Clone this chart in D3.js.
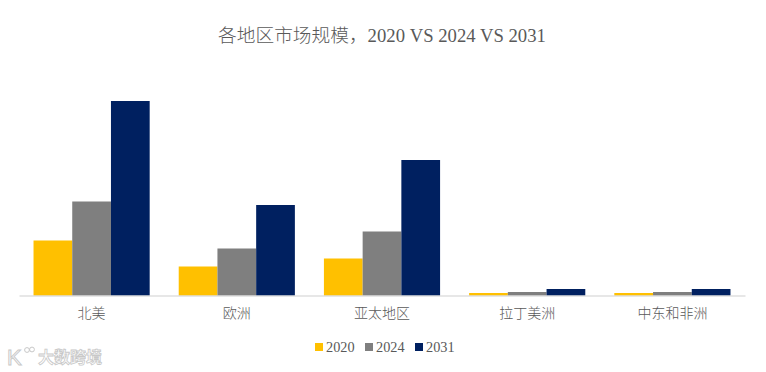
<!DOCTYPE html>
<html>
<head>
<meta charset="utf-8">
<script src="https://cdn.jsdelivr.net/npm/d3@7"></script>
<style>
  html, body { margin: 0; padding: 0; background: #fff; }
  svg { display: block; }
  text { font-family: "Liberation Serif", "Noto Sans CJK SC", serif; fill: #595959; }
  .cjk { font-family: "Noto Sans CJK SC", sans-serif; font-weight: 300; }
</style>
</head>
<body>
<div id="chart"></div>
<script>
// values, arbitrary units (the chart has no value axis)
var categories = ["北美", "欧洲", "亚太地区", "拉丁美洲", "中东和非洲"];
var years = ["2020", "2024", "2031"];
var values2020 = [55, 29, 37, 2.5, 2.5];
var values2024 = [94, 47, 64, 3.5, 3.5];
var values2031 = [194.5, 90.5, 135.5, 6.5, 6.5];
var colors = ["#ffc000", "#7f7f7f", "#002060"];
var series = [values2020, values2024, values2031];

var svgWidth = 766;
var svgHeight = 372;
var baseline = 295.5;

var svg = d3.select("#chart")
  .append("svg")
  .attr("width", svgWidth)
  .attr("height", svgHeight);

var x0 = d3.scaleBand()
  .domain(categories)
  .range([19, 745])
  .paddingInner(0.2)
  .paddingOuter(0.1);

var x1 = d3.scaleBand()
  .domain(years)
  .range([0, x0.bandwidth()]);

var y = d3.scaleLinear()
  .domain([0, 200])
  .range([baseline, baseline - 200]);

// title
var title = svg.append("text")
  .attr("x", 382)
  .attr("y", 42)
  .attr("text-anchor", "middle")
  .attr("font-size", 18.7);
title.append("tspan").attr("class", "cjk").text("各地区市场规模，");
title.append("tspan").text("2020 VS 2024 VS 2031");

// bars
years.forEach(function(year, s) {
  svg.append("g")
    .attr("fill", colors[s])
    .selectAll("rect")
    .data(series[s])
    .enter()
    .append("rect")
    .attr("x", (d, i) => x0(categories[i]) + x1(year))
    .attr("y", d => y(d))
    .attr("width", x1.bandwidth())
    .attr("height", d => y(0) - y(d));
});

// category axis
var bottomAxis = d3.axisBottom(x0).tickSize(0).tickPadding(10);
var axisGroup = svg.append("g")
  .attr("transform", `translate(0, ${baseline})`)
  .call(bottomAxis);
axisGroup.select(".domain").attr("stroke", "#cfcfcf").attr("stroke-width", 1);
axisGroup.selectAll("text")
  .attr("class", "cjk")
  .attr("font-size", 14)
  .attr("fill", "#595959")
  .attr("dy", "0.88em");

// legend
var legendX = d3.scaleOrdinal().domain(years).range([315, 365, 415]);
var legend = svg.append("g")
  .selectAll("g")
  .data(years)
  .enter()
  .append("g")
  .attr("transform", d => `translate(${legendX(d)}, 343)`);
legend.append("rect")
  .attr("width", 8)
  .attr("height", 8)
  .attr("fill", (d, i) => colors[i]);
legend.append("text")
  .attr("x", 11)
  .attr("y", 8.5)
  .attr("font-size", 14.3)
  .text(d => d);

// watermark, bottom left
var mark = svg.append("g").attr("fill", "none").attr("stroke", "#c8c8c8");
mark.append("text")
  .attr("x", 7)
  .attr("y", 365)
  .attr("font-size", 22)
  .style("font-family", '"Liberation Sans", sans-serif')
  .style("fill", "#fff")
  .attr("stroke-width", 1)
  .text("K");
mark.append("circle").attr("cx", 27).attr("cy", 350).attr("r", 2.4);
mark.append("circle").attr("cx", 32).attr("cy", 349.5).attr("r", 2.4);
mark.append("text")
  .attr("x", 38)
  .attr("y", 363)
  .attr("font-size", 16)
  .style("font-family", '"Noto Sans CJK SC", sans-serif')
  .style("font-weight", 700)
  .style("fill", "#fff")
  .attr("stroke-width", 0.8)
  .text("大数跨境");
</script>
</body>
</html>
